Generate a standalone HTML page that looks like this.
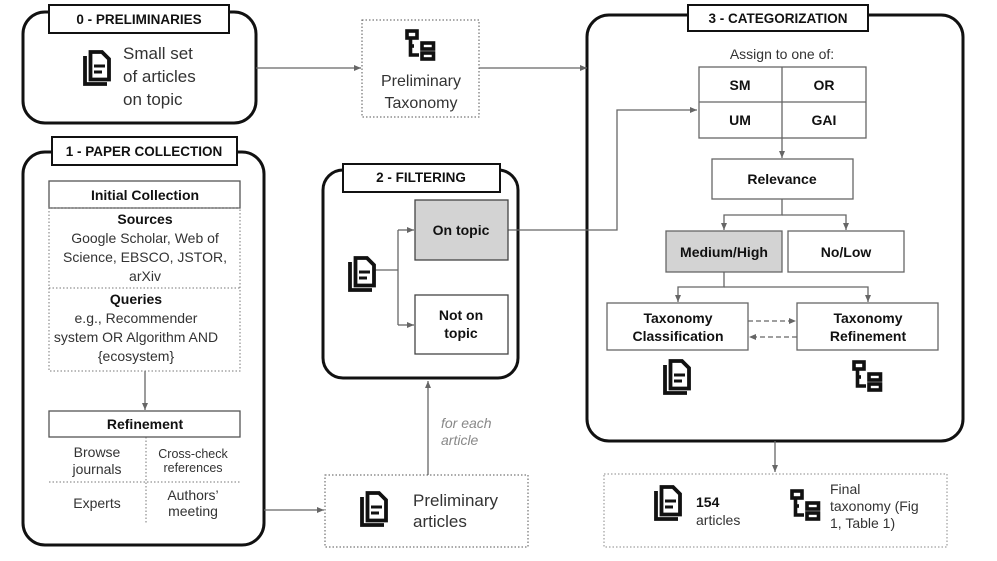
<!DOCTYPE html>
<html><head><meta charset="utf-8"><style>
body{margin:0;background:#fff;}
svg{display:block;font-family:"Liberation Sans",Arial,sans-serif;}
.b{font-weight:bold;fill:#111;}
.t{fill:#333;}
</style></head><body>
<svg width="997" height="561" viewBox="0 0 997 561" xmlns="http://www.w3.org/2000/svg">
<defs>
<marker id="a" markerWidth="8" markerHeight="8" refX="7" refY="4" orient="auto" markerUnits="userSpaceOnUse"><path d="M0,1 L7,4 L0,7 z" fill="#666"/></marker>
<g id="doc">
<path d="M2,6 V34 H24" fill="none" stroke="#111" stroke-width="3.8"/>
<path d="M7.5,2 H19 L26,9 V29.5 H7.5 Z" fill="none" stroke="#111" stroke-width="3.8" stroke-linejoin="miter"/>
<path d="M11,16 H22 M11,22 H19" stroke="#111" stroke-width="3"/>
</g>
<g id="tree">
<rect x="2" y="2" width="10" height="7" fill="none" stroke="#111" stroke-width="3.6"/>
<path d="M5.5,9 V26 H14" fill="none" stroke="#111" stroke-width="3.6"/>
<path d="M5.5,17 H9" stroke="#111" stroke-width="3.6"/>
<rect x="17" y="14" width="11.5" height="6" fill="none" stroke="#111" stroke-width="3.6"/>
<rect x="17" y="24" width="11.5" height="6" fill="none" stroke="#111" stroke-width="3.6"/>
</g>
</defs>
<g fill="none" stroke="#111" stroke-width="3">
<rect x="23" y="12" width="233" height="111" rx="22"/>
<rect x="23" y="152" width="241" height="393" rx="22"/>
<rect x="323" y="170" width="195" height="208" rx="20"/>
<rect x="587" y="15" width="376" height="426" rx="22"/>
</g>
<g fill="#fff" stroke="#111" stroke-width="2">
<rect x="49" y="5" width="180" height="28"/>
<rect x="52" y="137" width="185" height="28"/>
<rect x="343" y="164" width="157" height="28"/>
<rect x="688" y="5" width="180" height="26"/>
</g>
<g class="b" font-size="13.5" text-anchor="middle">
<text x="139" y="24">0 - PRELIMINARIES</text>
<text x="144" y="156">1 - PAPER COLLECTION</text>
<text x="421" y="182">2 - FILTERING</text>
<text x="778" y="23">3 - CATEGORIZATION</text>
</g>
<use href="#doc" x="83" y="50"/>
<g class="t" font-size="17"><text x="123" y="59">Small set</text><text x="123" y="82">of articles</text><text x="123" y="105">on topic</text></g>
<rect x="362" y="20" width="117" height="97" fill="none" stroke="#555" stroke-width="1" stroke-dasharray="1.5,2"/>
<use href="#tree" x="405" y="29"/>
<g class="t" font-size="16" text-anchor="middle"><text x="421" y="86">Preliminary</text><text x="421" y="108">Taxonomy</text></g>
<g stroke="#666" stroke-width="1.3" fill="none">
<line x1="256" y1="68" x2="361" y2="68" marker-end="url(#a)"/>
<line x1="479" y1="68" x2="587" y2="68" marker-end="url(#a)"/>
<line x1="145" y1="371" x2="145" y2="410" marker-end="url(#a)"/>
<line x1="264" y1="510" x2="324" y2="510" marker-end="url(#a)"/>
<line x1="428" y1="475" x2="428" y2="381" marker-end="url(#a)"/>
<path d="M373,270 H398 M398,230 V325"/>
<line x1="398" y1="230" x2="414" y2="230" marker-end="url(#a)"/>
<line x1="398" y1="325" x2="414" y2="325" marker-end="url(#a)"/>
<path d="M508,230 H617 V110 H697" marker-end="url(#a)"/>
<line x1="782" y1="138" x2="782" y2="158" marker-end="url(#a)"/>
<path d="M782,199 V215 H724 V230" marker-end="url(#a)"/>
<path d="M782,215 H846 V230" marker-end="url(#a)"/>
<path d="M724,272 V287 H678 V302" marker-end="url(#a)"/>
<path d="M724,287 H868 V302" marker-end="url(#a)"/>
<line x1="748" y1="321" x2="796" y2="321" stroke-dasharray="5,3" marker-end="url(#a)"/>
<line x1="797" y1="337" x2="749" y2="337" stroke-dasharray="5,3" marker-end="url(#a)"/>
<line x1="775" y1="441" x2="775" y2="472" marker-end="url(#a)"/>
</g>
<rect x="49" y="181" width="191" height="27" fill="none" stroke="#555" stroke-width="1.3"/>
<text class="b" x="145" y="200" font-size="14" text-anchor="middle">Initial Collection</text>
<g fill="none" stroke="#777" stroke-width="1" stroke-dasharray="1.5,2">
<rect x="49" y="208" width="191" height="163"/>
<line x1="49" y1="288" x2="240" y2="288"/>
<line x1="146" y1="437" x2="146" y2="523"/>
<line x1="49" y1="482" x2="240" y2="482"/>
</g>
<g text-anchor="middle" font-size="14">
<text class="b" x="145" y="224">Sources</text>
<text class="t" x="145" y="243">Google Scholar, Web of</text>
<text class="t" x="145" y="262">Science, EBSCO, JSTOR,</text>
<text class="t" x="145" y="281">arXiv</text>
<text class="b" x="136" y="304">Queries</text>
<text class="t" x="136" y="323">e.g., Recommender</text>
<text class="t" x="136" y="342">system OR Algorithm AND</text>
<text class="t" x="136" y="361">{ecosystem}</text>
</g>
<rect x="49" y="411" width="191" height="26" fill="none" stroke="#555" stroke-width="1.3"/>
<text class="b" x="145" y="429" font-size="14" text-anchor="middle">Refinement</text>
<g class="t" text-anchor="middle" font-size="14">
<text x="97" y="457">Browse</text><text x="97" y="474">journals</text>
<text x="97" y="508">Experts</text>
<text x="193" y="458" font-size="12.5">Cross-check</text><text x="193" y="472" font-size="12.5">references</text>
<text x="193" y="500">Authors’</text><text x="193" y="516">meeting</text>
</g>
<rect x="325" y="475" width="203" height="72" fill="none" stroke="#555" stroke-width="1" stroke-dasharray="1.5,2"/>
<use href="#doc" x="360" y="491"/>
<g class="t" font-size="17"><text x="413" y="506">Preliminary</text><text x="413" y="527">articles</text></g>
<g fill="#888" font-size="14" font-style="italic"><text x="441" y="428">for each</text><text x="441" y="445">article</text></g>
<use href="#doc" x="348" y="256"/>
<rect x="415" y="200" width="93" height="60" fill="#d3d3d3" stroke="#444" stroke-width="1.3"/>
<rect x="415" y="295" width="93" height="59" fill="#fff" stroke="#444" stroke-width="1.3"/>
<g class="b" font-size="14" text-anchor="middle"><text x="461" y="235">On topic</text><text x="461" y="320">Not on</text><text x="461" y="338">topic</text></g>
<text class="t" x="782" y="59" font-size="14" text-anchor="middle">Assign to one of:</text>
<g fill="none" stroke="#666" stroke-width="1.3">
<rect x="699" y="67" width="167" height="71"/><line x1="782" y1="67" x2="782" y2="138"/><line x1="699" y1="102" x2="866" y2="102"/>
<rect x="712" y="159" width="141" height="40"/>
<rect x="666" y="231" width="116" height="41" fill="#d3d3d3"/>
<rect x="788" y="231" width="116" height="41"/>
<rect x="607" y="303" width="141" height="47"/>
<rect x="797" y="303" width="141" height="47"/>
</g>
<g class="b" font-size="14" text-anchor="middle">
<text x="740" y="90">SM</text><text x="824" y="90">OR</text><text x="740" y="125">UM</text><text x="824" y="125">GAI</text>
<text x="782" y="184">Relevance</text>
<text x="724" y="257">Medium/High</text><text x="846" y="257">No/Low</text>
<text x="678" y="323">Taxonomy</text><text x="678" y="341">Classification</text>
<text x="868" y="323">Taxonomy</text><text x="868" y="341">Refinement</text>
</g>
<use href="#doc" x="663" y="359"/>
<use href="#tree" x="852" y="360"/>
<rect x="604" y="474" width="343" height="73" fill="none" stroke="#888" stroke-width="1" stroke-dasharray="1.5,2"/>
<use href="#doc" x="654" y="485"/>
<text class="b" x="696" y="507" font-size="14">154</text>
<text class="t" x="696" y="525" font-size="14">articles</text>
<use href="#tree" x="790" y="489"/>
<g class="t" font-size="14"><text x="830" y="494">Final</text><text x="830" y="511">taxonomy (Fig</text><text x="830" y="528">1, Table 1)</text></g>
</svg>
</body></html>
